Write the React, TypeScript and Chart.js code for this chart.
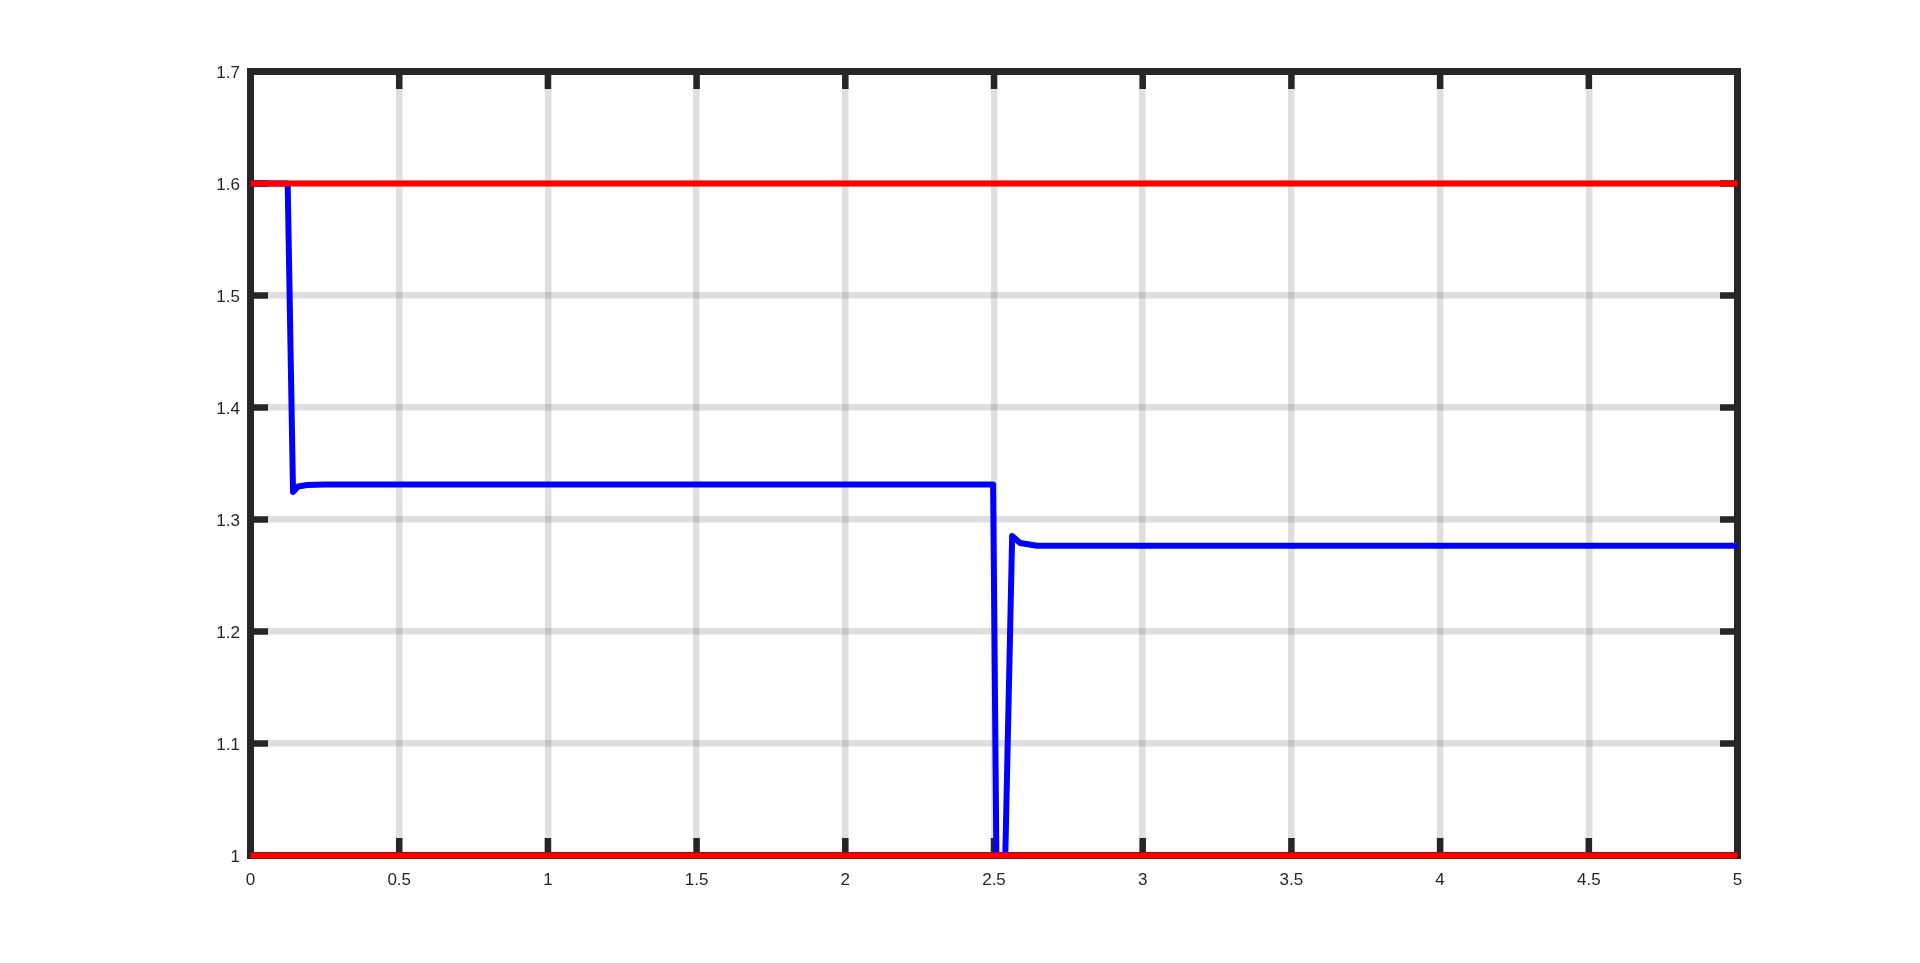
import { useEffect, useRef } from "react";
import { Chart, registerables } from "chart.js";

Chart.register(...registerables);

// controller output (blue) over time
const blueTime = [0, 0.125, 0.143, 0.16, 0.19, 0.25, 0.3, 2.497, 2.508, 2.538, 2.561, 2.588, 2.645, 5];
const blueValue = [1.6, 1.6, 1.3246, 1.3295, 1.3308, 1.3312, 1.3312, 1.3312, 1.0, 1.0, 1.2853, 1.279, 1.2766, 1.2765];

// limits (red)
const limitTime = [0, 5];
const upperLimit = [1.6, 1.6];
const lowerLimit = [1.0, 1.0];

const xTicks = [0, 0.5, 1, 1.5, 2, 2.5, 3, 3.5, 4, 4.5, 5];
const yTicks = [1, 1.1, 1.2, 1.3, 1.4, 1.5, 1.6, 1.7];

const AXIS_COLOR = "#262626";
const GRID_COLOR = "rgba(38, 38, 38, 0.15)";
const FONT = { family: "'Liberation Sans', Arial, sans-serif", size: 17 };

const toPoints = (xs: number[], ys: number[]) => xs.map((x, i) => ({ x, y: ys[i] }));

const fmt = (v: number) => String(Number(v.toFixed(2)));

// MATLAB-style box with inward ticks on all four sides
const boxPlugin = {
  id: "box",
  beforeDatasetsDraw(chart: Chart) {
    const { ctx, chartArea: a, scales } = chart;
    const len = 17.5;
    ctx.save();
    ctx.strokeStyle = AXIS_COLOR;
    ctx.lineWidth = 6.5;
    ctx.lineCap = "butt";
    ctx.beginPath();
    xTicks.forEach((v) => {
      const px = scales.x.getPixelForValue(v);
      ctx.moveTo(px, a.bottom);
      ctx.lineTo(px, a.bottom - len);
      ctx.moveTo(px, a.top);
      ctx.lineTo(px, a.top + len);
    });
    yTicks.forEach((v) => {
      const py = scales.y.getPixelForValue(v);
      ctx.moveTo(a.left, py);
      ctx.lineTo(a.left + len, py);
      ctx.moveTo(a.right, py);
      ctx.lineTo(a.right - len, py);
    });
    ctx.stroke();
    ctx.lineWidth = 7;
    ctx.lineJoin = "miter";
    ctx.strokeRect(a.left, a.top, a.right - a.left, a.bottom - a.top);
    ctx.restore();
  },
};

export default function App() {
  const canvasRef = useRef<HTMLCanvasElement>(null);

  useEffect(() => {
    document.body.style.margin = "0";
    if (!canvasRef.current) return;

    const chart = new Chart(canvasRef.current, {
      type: "line",
      data: {
        datasets: [
          {
            data: toPoints(limitTime, upperLimit),
            borderColor: "#ff0000",
            borderWidth: 6,
            pointRadius: 0,
            clip: 4,
          },
          {
            data: toPoints(limitTime, lowerLimit),
            borderColor: "#ff0000",
            borderWidth: 6,
            pointRadius: 0,
            clip: 4,
          },
          {
            data: toPoints(blueTime, blueValue),
            borderColor: "#0000ff",
            borderWidth: 6,
            borderJoinStyle: "round",
            pointRadius: 0,
            tension: 0,
          },
        ],
      },
      options: {
        responsive: false,
        animation: false,
        devicePixelRatio: 1,
        layout: { padding: { left: 0, top: 71.5, right: 182.5, bottom: 0 } },
        plugins: { legend: { display: false }, tooltip: { enabled: false } },
        scales: {
          x: {
            type: "linear",
            min: 0,
            max: 5,
            afterFit: (s: any) => {
              s.height = 107.5;
            },
            afterBuildTicks: (s: any) => {
              s.ticks = xTicks.map((value) => ({ value }));
            },
            grid: { color: GRID_COLOR, lineWidth: 6.5, drawTicks: false },
            border: { display: false },
            ticks: {
              color: AXIS_COLOR,
              font: FONT,
              padding: 15,
              maxRotation: 0,
              callback: (v: any) => fmt(Number(v)),
            },
          },
          y: {
            type: "linear",
            min: 1,
            max: 1.7,
            afterFit: (s: any) => {
              s.width = 250.5;
            },
            afterBuildTicks: (s: any) => {
              s.ticks = yTicks.map((value) => ({ value }));
            },
            grid: { color: GRID_COLOR, lineWidth: 6.5, drawTicks: false },
            border: { display: false },
            ticks: {
              color: AXIS_COLOR,
              font: FONT,
              padding: 10.5,
              labelOffset: 2,
              callback: (v: any) => fmt(Number(v)),
            },
          },
        },
      },
      plugins: [boxPlugin],
    });

    return () => {
      chart.destroy();
    };
  }, []);

  return (
    <div style={{ position: "fixed", left: 0, top: 0, width: 1920, height: 963, background: "#fff" }}>
      <canvas ref={canvasRef} width={1920} height={963} />
    </div>
  );
}
